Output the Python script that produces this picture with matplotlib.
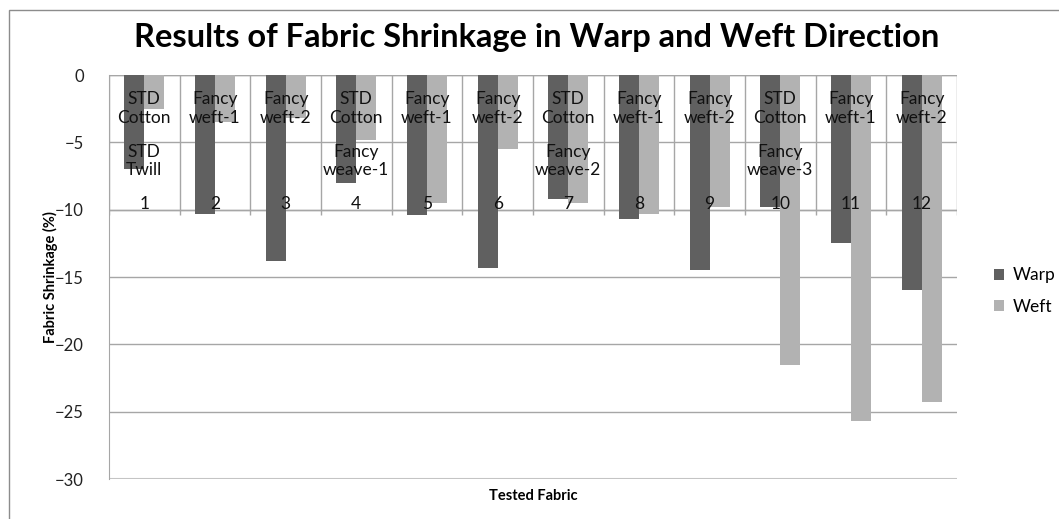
import matplotlib
matplotlib.use("Agg")
import matplotlib.pyplot as plt
import numpy as np
from matplotlib.patches import Rectangle

numbers = ["1", "2", "3", "4", "5", "6", "7", "8", "9", "10", "11", "12"]
top_labels = ["STD\nCotton", "Fancy\nweft-1", "Fancy\nweft-2",
              "STD\nCotton", "Fancy\nweft-1", "Fancy\nweft-2",
              "STD\nCotton", "Fancy\nweft-1", "Fancy\nweft-2",
              "STD\nCotton", "Fancy\nweft-1", "Fancy\nweft-2"]
group_labels = {0: "STD\nTwill", 3: "Fancy\nweave-1", 6: "Fancy\nweave-2", 9: "Fancy\nweave-3"}
warp = [-7.0, -10.3, -13.8, -8.0, -10.4, -14.3, -9.2, -10.7, -14.5, -9.8, -12.5, -16.0]
weft = [-2.5, -3.5, -3.2, -4.8, -9.5, -5.5, -9.5, -10.3, -9.8, -21.5, -25.7, -24.3]

W, H = 1059, 519
fig = plt.figure(figsize=(W / 100, H / 100), dpi=100)
fnt = "Lato"
plt.rcParams['font.family'] = [fnt, 'DejaVu Sans']

# outer frame
fig.patches.append(Rectangle((9 / W, -0.1), 1.2, 1 - 10 / H + 0.1, transform=fig.transFigure,
                             fill=False, edgecolor="#8c8c8c", lw=1.0))

ax = fig.add_axes([109 / W, 1 - 479 / H, (957 - 109) / W, (479 - 75) / H])
x = np.arange(len(numbers))
bw = 0.283
ax.bar(x - bw / 2, warp, bw, color="#606060", label="Warp", zorder=3)
ax.bar(x + bw / 2, weft, bw, color="#b2b2b2", label="Weft", zorder=3)

ax.set_xlim(-0.5, len(numbers) - 0.5)
ax.set_ylim(-30, 0)
ax.set_yticks(np.arange(-30, 1, 5))
ax.yaxis.grid(True, color="#a6a6a6", lw=1.0, zorder=0)
ax.set_xticks([])
for s in ["top", "right", "bottom"]:
    ax.spines[s].set_visible(False)
ax.spines["left"].set_color("#a6a6a6")
ax.axhline(-30, color="#cccccc", lw=1.5, zorder=1)
ax.axhline(0, color="#a6a6a6", lw=1.0, zorder=1)
ax.axhline(-10, color="#a6a6a6", lw=1.0, zorder=1)
ax.vlines(np.arange(len(numbers) + 1) - 0.5, -10.4, 0, color="#a6a6a6", lw=1.0, zorder=1)
ax.tick_params(axis="y", length=0, labelsize=12, pad=18, labelcolor="#222222")

for i in x:
    ax.text(i, -2.5, top_labels[i], ha="center", va="center", fontsize=12.5,
            linespacing=1.2, zorder=4, color="#111111")
    ax.text(i, -9.6, numbers[i], ha="center", va="center", fontsize=12.5, zorder=4, color="#111111")
    if i in group_labels:
        ax.text(i, -6.4, group_labels[i], ha="center", va="center", fontsize=12.5,
                linespacing=1.2, zorder=4, color="#111111")

ax.set_ylabel("Fabric Shrinkage (%)", fontsize=10.5, fontweight="bold", labelpad=-2)
ax.set_xlabel("Tested Fabric", fontsize=10.5, fontweight="bold", labelpad=7)
fig.text(537 / W, 1 - 38 / H, "Results of Fabric Shrinkage in Warp and Weft Direction",
         ha="center", va="center", fontsize=23.5, fontweight="bold")
ax.legend(loc="center left", bbox_to_anchor=(1.025, 0.465), frameon=False, fontsize=12.5,
          handlelength=0.6, handleheight=0.6, handletextpad=0.5, labelspacing=0.9)

fig.savefig("out.png", dpi=100)
